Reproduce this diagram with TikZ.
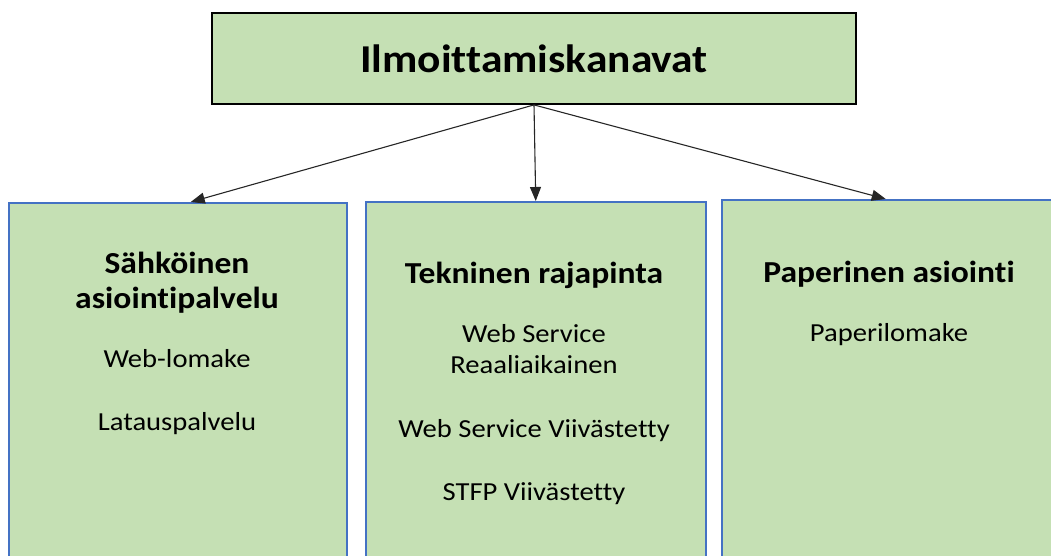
\documentclass[tikz,border=0pt]{standalone}
\usepackage{fontspec}
\setmainfont[FakeStretch=1.1, Ligatures={NoCommon}]{Carlito}
\usetikzlibrary{arrows.meta}
\definecolor{laatikko}{HTML}{C5E0B4}
\definecolor{reuna}{HTML}{4472C4}
\tikzset{
	paa/.style={draw=black, line width=1.8pt, fill=laatikko, inner sep=0pt,
		font=\fontsize{39.5}{47}\selectfont\bfseries},
	kanava/.style={draw=reuna, line width=1.5pt, fill=laatikko, inner sep=0pt,
		anchor=north west},
	otsikko/.style={anchor=base, inner sep=0pt, font=\fontsize{30.5}{35}\selectfont\bfseries},
	teksti/.style={anchor=base, inner sep=0pt, font=\fontsize{26}{31}\selectfont},
	nuoli/.style={draw=black!85, line width=1.1pt, -{Triangle[length=14pt,width=11pt]}}
}
\begin{document}
\begin{tikzpicture}[x=1pt, y=-1pt]
	\useasboundingbox (0,0) rectangle (1051,556);
	% Ylälaatikko
	\node[paa, minimum width=644pt, minimum height=91pt] (kanavat) at (534,58.5)
		{Ilmoittamiskanavat};
	% Kanavat
	\node[kanava, minimum width=338pt, minimum height=380pt] (sahko) at (8,202) {};
	\node[kanava, minimum width=340pt, minimum height=380pt] (tekn) at (365,201) {};
	\node[kanava, minimum width=338pt, minimum height=380pt] (paperi) at (721,199) {};
	% Nuolet
	\draw[nuoli] (kanavat.south) -- ([xshift=13pt]sahko.north);
	\draw[nuoli] (kanavat.south) -- (tekn.north);
	\draw[nuoli] (kanavat.south) -- ([xshift=-5pt]paperi.north);
	% Sähköinen asiointipalvelu
	\node[otsikko] (sahko1) at (177,273) {Sähköinen};
	\node[otsikko] (sahko2) at (177,308) {asiointipalvelu};
	\node[teksti] (weblomake) at (177,367) {Web-lomake};
	\node[teksti] (lataus) at (177,430) {Latauspalvelu};
	% Tekninen rajapinta
	\node[otsikko] (tekn1) at (534,283) {Tekninen rajapinta};
	\node[teksti] (ws1) at (534,342) {Web Service};
	\node[teksti] (ws2) at (534,373) {Reaaliaikainen};
	\node[teksti] (wsv) at (534,437) {Web Service Viivästetty};
	\node[teksti] (stfp) at (534,500) {STFP Viivästetty};
	% Paperinen asiointi
	\node[otsikko] (paperi1) at (889,282) {Paperinen asiointi};
	\node[teksti] (lomake) at (889,341) {Paperilomake};
\end{tikzpicture}
\end{document}
